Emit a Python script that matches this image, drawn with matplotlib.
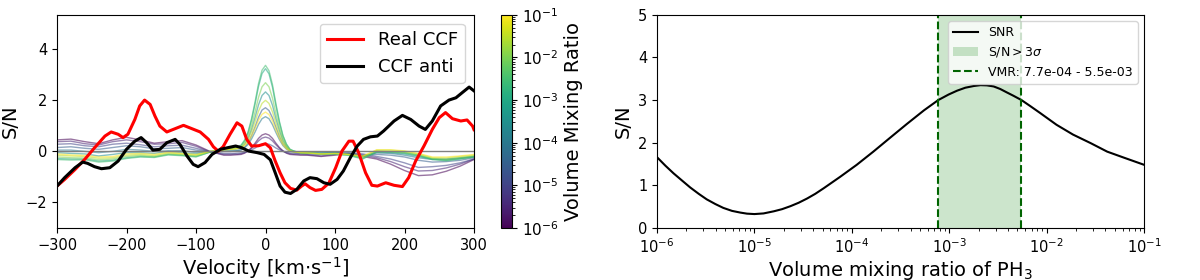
import matplotlib
matplotlib.use("Agg")
import matplotlib.pyplot as plt
from matplotlib.colors import LogNorm
import matplotlib.cm as cm

# ---- left panel: CCFs ----
vel_real = [-300, -289, -274, -260, -246, -231, -222, -212, -205, -198, -188, -181, -174, -166,
            -159, -152, -142, -130, -118, -106, -94, -82, -75, -68, -61, -51, -41, -34, -27, -20,
            -10, 0, 7, 14, 21, 28, 36, 45, 52, 57, 64, 72, 81, 91, 101, 110, 120, 126, 134, 144,
            153, 161, 173, 185, 197, 206, 216, 228, 240, 250, 259, 269, 281, 290, 298, 300]
snr_real = [-1.36, -1.10, -0.71, -0.31, 0.14, 0.60, 0.76, 0.67, 0.54, 0.67, 1.25, 1.78, 2.01, 1.84,
            1.38, 0.99, 0.76, 0.89, 1.02, 0.89, 0.76, 0.47, 0.18, 0.01, 0.18, 0.67, 1.12, 0.99, 0.47, 0.21,
            0.22, 0.30, 0.14, -0.38, -0.84, -1.23, -1.45, -1.52, -1.36, -1.27, -1.42, -1.53, -1.49, -1.25,
            -0.64, 0.01, 0.40, 0.40, -0.05, -0.84, -1.33, -1.36, -1.23, -1.33, -1.38, -1.03, -0.38, 0.21,
            0.86, 1.32, 1.52, 1.28, 1.19, 1.23, 0.99, 0.85]

vel_anti = [-300, -289, -274, -263, -256, -246, -236, -224, -212, -200, -188, -179, -171, -162,
            -152, -142, -130, -123, -113, -104, -97, -87, -77, -65, -55, -43, -34, -24, -12, -2,
            7, 14, 21, 28, 36, 45, 55, 64, 74, 84, 93, 103, 112, 122, 132, 141, 151, 161, 170,
            185, 197, 209, 221, 230, 240, 252, 264, 274, 283, 293, 300]
snr_anti = [-1.36, -1.03, -0.64, -0.42, -0.47, -0.60, -0.68, -0.64, -0.38, 0.08, 0.40, 0.54, 0.34, 0.05,
            0.08, 0.34, 0.47, 0.27, -0.18, -0.51, -0.60, -0.44, -0.12, 0.08, 0.14, 0.21, 0.14, 0.01, -0.05, -0.12,
            -0.33, -0.84, -1.36, -1.60, -1.65, -1.49, -1.16, -1.03, -1.07, -1.23, -1.29, -1.10, -0.77, -0.25,
            0.21, 0.47, 0.57, 0.60, 0.80, 1.19, 1.41, 1.25, 0.99, 0.86, 1.19, 1.78, 2.01, 2.10, 2.30, 2.52, 2.37]

# injected model CCFs
vel_model = [-300, -280, -260, -240, -220, -200, -180, -160, -140, -120, -100, -80, -60,
             -50, -45, -40, -35, -30, -25, -20, -15, -10, -5, 0, 5, 10, 15, 20, 25, 30, 35, 40, 45, 50,
             60, 80, 100, 120, 140, 160, 180, 200, 220, 240, 260, 280, 300]
vmr_model = [1e-6, 3e-6, 1e-5, 3e-5, 1e-4, 3e-4, 1e-3, 3e-3, 1e-2, 3e-2, 1e-1]
snr_model = [
    # 1e-6
    [0.45, 0.48, 0.38, 0.30, 0.45, 0.55, 0.45, 0.32, 0.38, 0.42, 0.25, 0.00, -0.15,
     -0.15, -0.14, -0.13, -0.12, -0.07, 0.02, 0.15, 0.32, 0.51, 0.64, 0.69, 0.64, 0.51, 0.32, 0.15, 0.02, -0.07, -0.12, -0.13, -0.14, -0.15,
     -0.15, -0.20, -0.15, -0.10, -0.20, -0.30, -0.50, -0.75, -0.95, -0.92, -0.78, -0.58, -0.32],
    # 3e-6
    [0.38, 0.40, 0.30, 0.25, 0.38, 0.45, 0.38, 0.28, 0.30, 0.35, 0.20, -0.02, -0.12,
     -0.12, -0.11, -0.11, -0.09, -0.05, 0.02, 0.12, 0.26, 0.41, 0.52, 0.56, 0.52, 0.41, 0.26, 0.12, 0.02, -0.05, -0.09, -0.11, -0.11, -0.12,
     -0.13, -0.18, -0.12, -0.08, -0.15, -0.25, -0.40, -0.60, -0.77, -0.75, -0.65, -0.50, -0.30],
    # 1e-5
    [0.28, 0.30, 0.22, 0.18, 0.28, 0.32, 0.26, 0.18, 0.22, 0.24, 0.12, -0.02, -0.08,
     -0.08, -0.08, -0.07, -0.06, -0.04, 0.00, 0.06, 0.13, 0.22, 0.28, 0.30, 0.28, 0.22, 0.13, 0.06, 0.00, -0.04, -0.06, -0.07, -0.08, -0.08,
     -0.10, -0.12, -0.08, -0.05, -0.10, -0.20, -0.30, -0.45, -0.63, -0.60, -0.55, -0.45, -0.30],
    # 3e-5
    [0.15, 0.18, 0.12, 0.08, 0.15, 0.22, 0.18, 0.10, 0.12, 0.15, 0.05, -0.02, 0.00,
     0.00, 0.02, 0.03, 0.07, 0.17, 0.34, 0.62, 0.96, 1.34, 1.62, 1.71, 1.60, 1.32, 0.94, 0.58, 0.30, 0.13, 0.02, -0.01, -0.03, -0.05,
     -0.07, -0.08, -0.05, -0.08, -0.15, -0.12, -0.15, -0.22, -0.35, -0.42, -0.40, -0.35, -0.25],
    # 1e-4
    [0.05, 0.05, 0.00, -0.05, 0.00, 0.08, 0.05, 0.00, 0.02, 0.03, -0.05, -0.02, 0.00,
     0.00, 0.01, 0.03, 0.05, 0.14, 0.27, 0.49, 0.76, 1.06, 1.28, 1.36, 1.28, 1.05, 0.74, 0.46, 0.23, 0.09, 0.01, -0.02, -0.04, -0.05,
     -0.06, -0.06, -0.05, -0.10, -0.18, -0.06, -0.08, -0.15, -0.25, -0.32, -0.32, -0.28, -0.22],
    # 3e-4
    [-0.05, -0.08, -0.10, -0.18, -0.12, -0.05, -0.05, -0.08, 0.00, -0.05, -0.10, 0.00, 0.05,
     0.05, 0.07, 0.10, 0.14, 0.28, 0.51, 0.87, 1.33, 1.83, 2.19, 2.33, 2.19, 1.81, 1.28, 0.81, 0.43, 0.19, 0.05, 0.00, -0.03, -0.05,
     -0.06, -0.06, -0.06, -0.12, -0.22, -0.04, -0.05, -0.10, -0.20, -0.30, -0.30, -0.25, -0.20],
    # 1e-3
    [-0.28, -0.30, -0.30, -0.38, -0.35, -0.25, -0.20, -0.22, -0.12, -0.15, -0.20, -0.03, 0.08,
     0.10, 0.13, 0.16, 0.23, 0.41, 0.73, 1.23, 1.86, 2.55, 3.05, 3.24, 3.04, 2.52, 1.79, 1.13, 0.61, 0.28, 0.08, 0.02, -0.02, -0.05,
     -0.06, -0.10, -0.10, -0.15, -0.28, 0.00, -0.02, -0.05, -0.15, -0.30, -0.35, -0.28, -0.20],
    # 3e-3
    [-0.32, -0.34, -0.33, -0.42, -0.38, -0.28, -0.22, -0.24, -0.14, -0.17, -0.22, -0.03, 0.10,
     0.12, 0.15, 0.19, 0.25, 0.45, 0.77, 1.29, 1.94, 2.66, 3.18, 3.37, 3.16, 2.62, 1.87, 1.18, 0.63, 0.29, 0.09, 0.02, -0.02, -0.05,
     -0.06, -0.10, -0.10, -0.16, -0.30, -0.02, -0.03, -0.07, -0.17, -0.32, -0.37, -0.30, -0.22],
    # 1e-2
    [-0.22, -0.25, -0.26, -0.33, -0.30, -0.20, -0.16, -0.20, -0.10, -0.13, -0.18, -0.02, 0.08,
     0.10, 0.13, 0.15, 0.20, 0.36, 0.62, 1.03, 1.55, 2.12, 2.53, 2.69, 2.53, 2.09, 1.48, 0.94, 0.50, 0.22, 0.06, 0.00, -0.02, -0.05,
     -0.06, -0.10, -0.09, -0.14, -0.25, 0.02, 0.00, -0.04, -0.13, -0.28, -0.32, -0.25, -0.18],
    # 3e-2
    [-0.15, -0.18, -0.20, -0.27, -0.25, -0.15, -0.12, -0.16, -0.06, -0.10, -0.15, 0.00, 0.06,
     0.08, 0.10, 0.12, 0.16, 0.27, 0.46, 0.77, 1.16, 1.58, 1.88, 2.00, 1.88, 1.55, 1.10, 0.69, 0.36, 0.16, 0.03, -0.01, -0.03, -0.05,
     -0.06, -0.10, -0.08, -0.12, -0.20, 0.05, 0.05, 0.00, -0.10, -0.25, -0.26, -0.20, -0.15],
    # 1e-1
    [-0.10, -0.14, -0.16, -0.22, -0.20, -0.10, -0.08, -0.12, -0.04, -0.08, -0.12, 0.00, 0.06,
     0.08, 0.09, 0.11, 0.14, 0.23, 0.37, 0.61, 0.90, 1.22, 1.45, 1.54, 1.44, 1.19, 0.84, 0.52, 0.27, 0.11, 0.01, -0.02, -0.03, -0.05,
     -0.06, -0.10, -0.08, -0.12, -0.18, 0.06, 0.06, 0.02, -0.08, -0.22, -0.22, -0.18, -0.12],
]

# ---- right panel: S/N vs VMR ----
vmr_grid = [1.0e-6, 1.22e-6, 1.48e-6, 1.81e-6, 2.19e-6, 2.68e-6, 3.24e-6, 3.97e-6, 4.79e-6, 5.88e-6,
            7.16e-6, 8.38e-6, 1.0e-5, 1.24e-5, 1.58e-5, 1.92e-5, 2.34e-5, 2.84e-5, 3.47e-5, 4.21e-5,
            5.13e-5, 7.59e-5, 1.12e-4, 1.66e-4, 2.45e-4, 3.67e-4, 5.5e-4, 7.7e-4, 9.83e-4, 1.2e-3,
            1.46e-3, 1.78e-3, 2.09e-3, 2.43e-3, 2.85e-3, 3.33e-3, 3.89e-3, 4.56e-3, 5.5e-3, 6.76e-3,
            8.51e-3, 1.26e-2, 1.86e-2, 2.82e-2, 4.17e-2, 6.17e-2, 1.0e-1]
snr_curve = [1.66, 1.46, 1.28, 1.11, 0.95, 0.80, 0.67, 0.56, 0.47, 0.40,
             0.36, 0.335, 0.325, 0.34, 0.39, 0.44, 0.51, 0.59, 0.69, 0.80,
             0.93, 1.20, 1.48, 1.79, 2.11, 2.44, 2.76, 3.00, 3.13, 3.22,
             3.29, 3.33, 3.35, 3.345, 3.32, 3.26, 3.18, 3.10, 3.00, 2.86,
             2.70, 2.42, 2.19, 1.99, 1.79, 1.65, 1.48]
vmr_lo, vmr_hi = 7.7e-4, 5.5e-3

fig = plt.figure(figsize=(12, 2.8), dpi=100)
ax1 = fig.add_axes([0.0475, 0.186, 0.3475, 0.761])
cax = fig.add_axes([0.4175, 0.186, 0.0092, 0.761])
ax2 = fig.add_axes([0.5475, 0.186, 0.406, 0.761])

norm = LogNorm(vmin=1e-6, vmax=1e-1)
cmap = plt.get_cmap('viridis')
for vmr, snr in zip(vmr_model, snr_model):
    ax1.plot(vel_model, snr, color=cmap(norm(vmr)), lw=1, alpha=0.55)
ax1.axhline(0, color='gray', lw=1)
ax1.plot(vel_real, snr_real, color='red', lw=2.2, label='Real CCF')
ax1.plot(vel_anti, snr_anti, color='black', lw=2.2, label='CCF anti')
ax1.set_xlim(-300, 300)
ax1.set_ylim(-3.0, 5.35)
ax1.set_xlabel(r'Velocity [km$\cdot$s$^{-1}$]', fontsize=14, labelpad=2)
ax1.set_ylabel('S/N', fontsize=14)
ax1.tick_params(labelsize=10.5)
ax1.legend(loc='upper right', fontsize=13)

sm = cm.ScalarMappable(norm=norm, cmap=cmap)
cb = fig.colorbar(sm, cax=cax)
cb.set_label('Volume Mixing Ratio', fontsize=14)
cb.ax.tick_params(labelsize=11)

ax2.plot(vmr_grid, snr_curve, color='black', lw=1.5, label='SNR')
ax2.axvspan(vmr_lo, vmr_hi, color='green', alpha=0.2, lw=0, label=r'S/N$>3\sigma$')
ax2.axvline(vmr_lo, color='darkgreen', ls='--', lw=1.5,
            label=f'VMR: {vmr_lo:.1e} - {vmr_hi:.1e}')
ax2.axvline(vmr_hi, color='darkgreen', ls='--', lw=1.5)
ax2.set_xscale('log')
ax2.set_xlim(1e-6, 1e-1)
ax2.set_ylim(0, 5)
ax2.set_xlabel('Volume mixing ratio of PH$_3$', fontsize=14, labelpad=2)
ax2.set_ylabel('S/N', fontsize=14)
ax2.tick_params(labelsize=10.5)
ax2.legend(loc='upper right', fontsize=9)

fig.savefig('out.png', dpi=100)
